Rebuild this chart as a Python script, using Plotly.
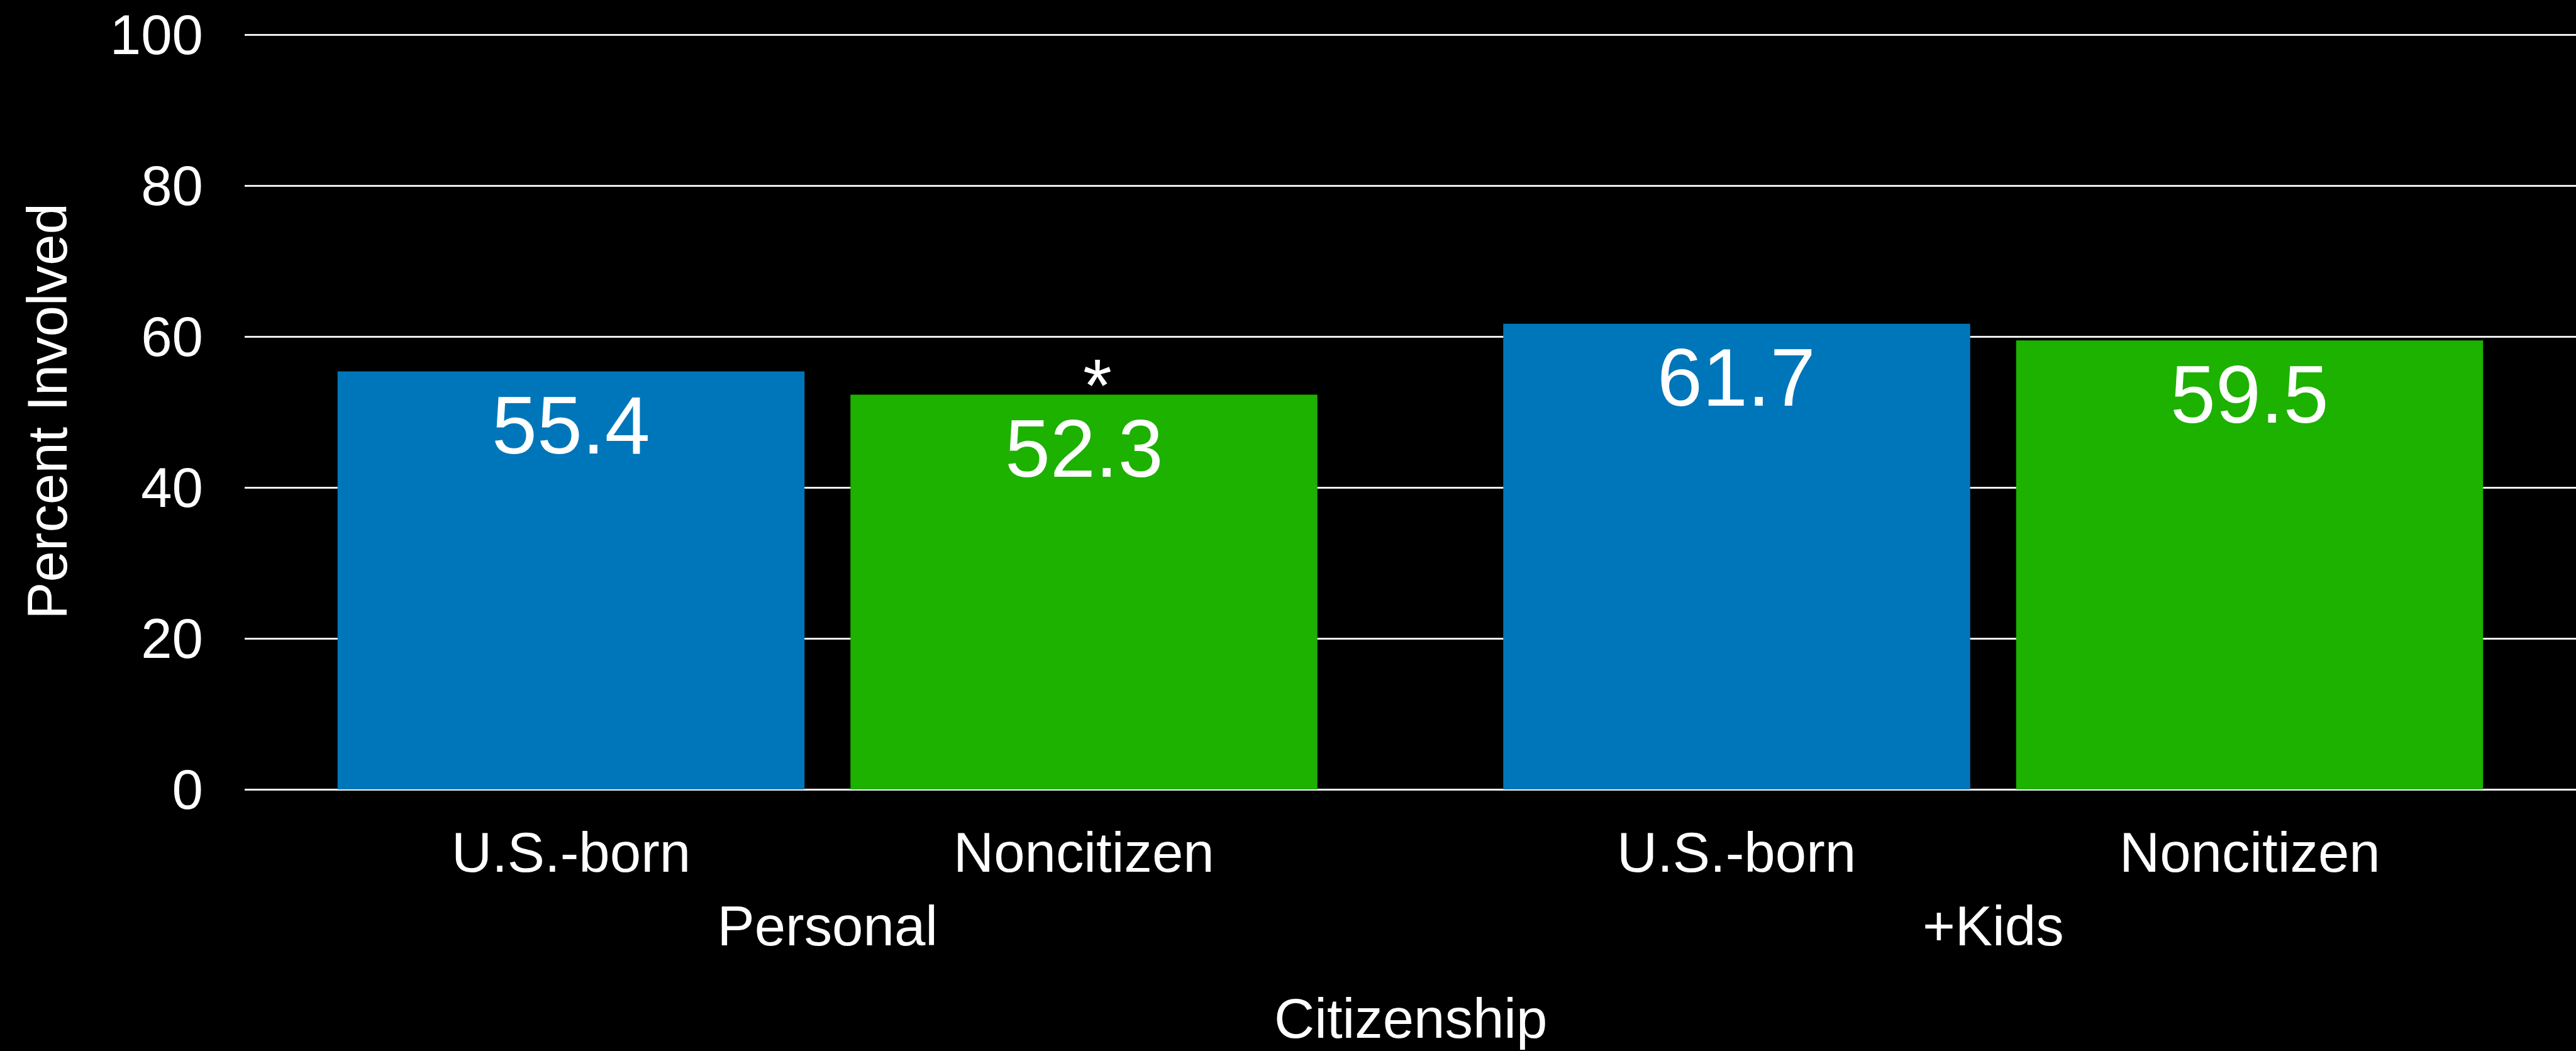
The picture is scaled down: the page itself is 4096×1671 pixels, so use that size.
import plotly.graph_objects as go

# ---- data ----
groups = ["Personal", "+Kids"]
subgroups = ["U.S.-born", "Noncitizen"]
us_born = [55.4, 61.7]
noncitizen = [52.3, 59.5]
noncitizen_marks = ["*", ""]
y_ticks = [0, 20, 40, 60, 80, 100]
x_title = "Citizenship"
y_title = "Percent Involved"

# ---- style ----
S = 0.987
FONT = "Liberation Sans, Arial, Helvetica, sans-serif"
BLUE = "#0076BA"
GREEN = "#1DB100"
BARGAP = 0.12
BARGROUPGAP = 0.0896
LABEL = 90 * S
VALUE = 131 * S
STAR = 118

fig = go.Figure()
series = [(subgroups[0], us_born, BLUE, [""] * len(groups)),
          (subgroups[1], noncitizen, GREEN, noncitizen_marks)]
for name, vals, color, _ in series:
    fig.add_trace(go.Bar(
        x=groups, y=vals, name=name,
        marker=dict(color=color, line=dict(width=0)),
        hoverinfo="skip",
    ))

annotations = []
half = (1 - BARGAP) / 2
for gi, g in enumerate(groups):
    for si, (name, vals, color, marks) in enumerate(series):
        xpos = gi + (si - 0.5) * half
        # category label under each bar
        annotations.append(dict(
            x=xpos, xref="x", y=0, yref="paper",
            yanchor="top", xanchor="center", yshift=-50 * S,
            text=name, showarrow=False,
            font=dict(color="white", size=LABEL, family=FONT),
        ))
        # value label inside top of bar
        annotations.append(dict(
            x=xpos, xref="x", y=vals[gi], yref="y",
            yanchor="top", xanchor="center", yshift=-11.6,
            text=f"{vals[gi]:.1f}", showarrow=False,
            font=dict(color="white", size=VALUE, family=FONT),
        ))
        if marks[gi]:
            annotations.append(dict(
                x=xpos, xref="x", y=vals[gi], yref="y",
                yanchor="bottom", xanchor="center", xshift=22 * S, yshift=5.5,
                height=round(0.62 * STAR), valign="top",
                text=marks[gi], showarrow=False,
                font=dict(color="white", size=STAR, family=FONT),
            ))

# x-axis title (annotation so it can sit close to the page's bottom edge)
annotations.append(dict(
    x=0.5, xref="paper", y=0, yref="paper",
    yanchor="top", xanchor="center", yshift=-313,
    text=x_title, showarrow=False,
    font=dict(color="white", size=LABEL, family=FONT),
))

fig.update_layout(
    width=4096, height=1671,
    paper_bgcolor="black", plot_bgcolor="black",
    margin=dict(l=389, r=0, t=53, b=416, pad=0),
    barmode="group", bargap=BARGAP, bargroupgap=BARGROUPGAP,
    showlegend=False,
    font=dict(family=FONT, color="white", size=LABEL),
    annotations=annotations,
    xaxis=dict(
        type="category", range=[-0.5, 1.5], showgrid=False, zeroline=False,
        showline=False, ticks="", ticklabelstandoff=158,
        tickfont=dict(size=LABEL, color="white", family=FONT),
        automargin=False,
    ),
    yaxis=dict(
        range=[0, 100.2], tickvals=y_ticks, ticks="",
        showgrid=True, gridcolor="#eeeeee", gridwidth=2.5,
        zeroline=True, zerolinecolor="#f4f4f4", zerolinewidth=2.5,
        showline=False, ticklabelstandoff=65,
        tickfont=dict(size=LABEL, color="white", family=FONT),
        title=dict(text=y_title, standoff=38,
                   font=dict(size=LABEL, color="white", family=FONT)),
        automargin=False,
    ),
)

fig.write_html(
    "out.html",
    config={"displayModeBar": False},
    post_script="document.body.style.margin='0';document.body.style.padding='0';"
                "document.body.style.background='black';",
)
